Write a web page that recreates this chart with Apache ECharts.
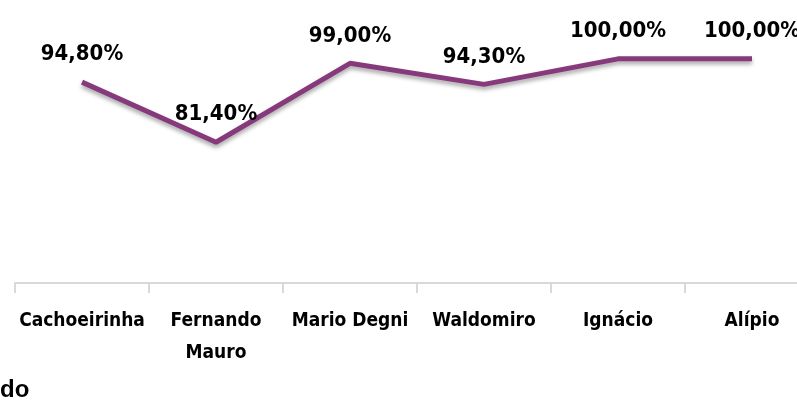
<!DOCTYPE html>
<html>
<head lang="en">
    <meta charset="UTF-8">
    <title></title>
    <style>
        html, body { margin: 0; padding: 0; background: #fff; }
    </style>
</head>
<body>
<div id="chart" style="width: 797px;height: 405px;"></div>
<script src="https://cdn.jsdelivr.net/npm/echarts@6/dist/echarts.min.js"></script>
<script>
    // unidades
    var categorias = ['Cachoeirinha', 'Fernando\nMauro', 'Mario Degni', 'Waldomiro', 'Ignácio', 'Alípio'];
    // percentual
    var valores = [94.8, 81.4, 99.0, 94.3, 100.0, 100.0];

    var fonte = '"Liberation Sans Narrow", "DejaVu Sans Condensed", sans-serif';
    var chart = echarts.init(document.getElementById('chart'));

    var option = {
        animation: false,
        grid: {
            left: 15,
            top: 14,
            width: 804,
            height: 269,
            outerBoundsMode: 'none'
        },
        xAxis: {
            type: 'category',
            data: categorias,
            boundaryGap: true,
            axisLine: { lineStyle: { color: '#d9d9d9', width: 2 } },
            axisTick: { show: true, length: 10, lineStyle: { color: '#d9d9d9', width: 2 } },
            axisLabel: {
                color: '#000',
                fontFamily: fonte,
                fontWeight: 'bold',
                fontSize: 19,
                lineHeight: 32,
                margin: 22,
                interval: 0
            }
        },
        yAxis: {
            type: 'value',
            min: 50,
            max: 110,
            show: false
        },
        series: [{
            type: 'line',
            data: valores,
            symbol: 'circle',
            symbolSize: 1,
            itemStyle: { color: 'rgba(0,0,0,0)' },
            lineStyle: {
                color: '#863a7c',
                width: 5,
                shadowColor: 'rgba(0,0,0,0.35)',
                shadowBlur: 4,
                shadowOffsetY: 3
            },
            label: {
                show: true,
                position: 'top',
                distance: 16,
                color: '#000',
                fontFamily: fonte,
                fontWeight: 'bold',
                fontSize: 22,
                formatter: function (p) {
                    return p.value.toFixed(2).replace('.', ',') + '%';
                }
            }
        }],
        graphic: [{
            type: 'text',
            left: 0,
            top: 378,
            style: {
                text: 'do',
                font: 'bold 24px "Liberation Sans", Arial, sans-serif',
                fill: '#000'
            }
        }]
    };
    chart.setOption(option);
</script>
</body>
</html>
